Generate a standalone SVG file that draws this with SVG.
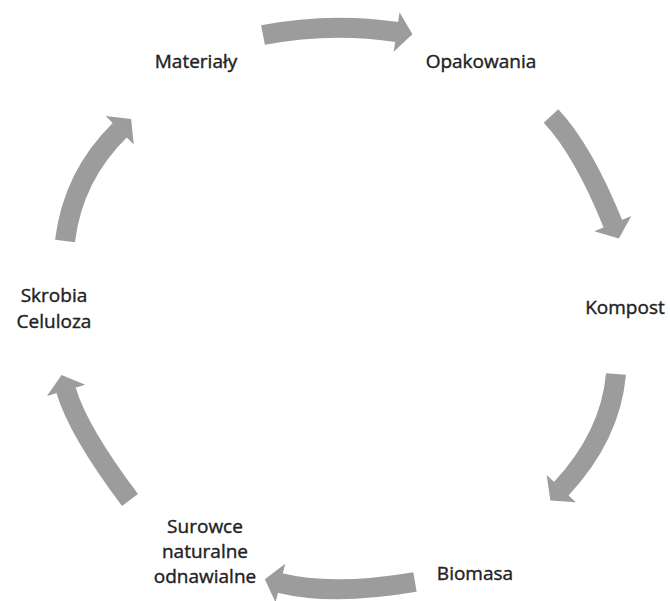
<svg xmlns="http://www.w3.org/2000/svg" width="670" height="601" viewBox="0 0 670 601">
  <style>
    .lbl { font-family: "Open Sans", "DejaVu Sans", sans-serif; font-size: 19px; fill: #222; stroke: #222; stroke-width: 0.4; text-anchor: middle; }
    .arr { fill: none; stroke: #9c9c9c; stroke-width: 20; stroke-linecap: butt; marker-end: url(#head); }
  </style>
  <defs>
    <marker id="head" viewBox="0 0 8 20" refX="0.2" refY="10" markerWidth="0.9" markerHeight="2" orient="auto" markerUnits="strokeWidth">
      <path d="M0,0 L8,10 L0,20 Z" fill="#9c9c9c"/>
    </marker>
  </defs>
  <rect width="670" height="601" fill="#ffffff"/>
  <g id="connectors">
    <path class="arr" d="M263,35 Q330,22 397,32"/>
    <path class="arr" d="M551,116 Q583,150 613,224"/>
    <path class="arr" d="M616,374 Q610.6,435.8 561,489"/>
    <path class="arr" d="M415,582 Q332,596 280,583"/>
    <path class="arr" d="M130,500 Q78,431 66,390"/>
    <path class="arr" d="M65,241 Q73,176 120,130"/>
  </g>
  <g id="materialy"><text class="lbl" x="196" y="68">Materiały</text></g>
  <g id="opakowania"><text class="lbl" x="481" y="68">Opakowania</text></g>
  <g id="kompost"><text class="lbl" x="625" y="314">Kompost</text></g>
  <g id="biomasa"><text class="lbl" x="475" y="580">Biomasa</text></g>
  <g id="surowce"><text class="lbl" x="205" y="533"><tspan x="205">Surowce</tspan><tspan x="205" dy="25">naturalne</tspan><tspan x="205" dy="25">odnawialne</tspan></text></g>
  <g id="skrobia"><text class="lbl" x="54" y="302"><tspan x="54">Skrobia</tspan><tspan x="54" dy="26">Celuloza</tspan></text></g>
</svg>
